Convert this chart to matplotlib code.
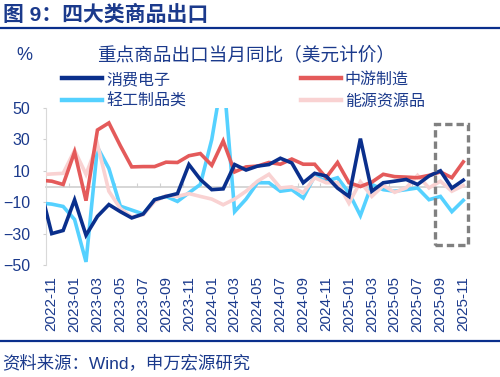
import numpy as np
import pandas as pd
import matplotlib
matplotlib.use("Agg")
import matplotlib.pyplot as plt
from matplotlib.patches import Rectangle
from matplotlib.lines import Line2D

# months 2022-10 .. 2025-11 (first point sits just left of the axis)
months = [p.strftime("%Y-%m") for p in pd.period_range("2022-10", "2025-11", freq="M")]

elec = [-1, -30, -28, -8.5, -31, -19, -11.5, -16, -20, -17.5, -8.4, -6.3, -4.5, 14, 4.5, -2, -1.5,
        14, 10.5, 13, 14, 18, 15, 2.4, 8.4, 6.7, -1, -6.3, 30.5, -3, 2.4, 3.4, 4.5, 1.3, 6.7, 10, -1, 4]
mid = [4, 3.4, 1.3, 22, -9, 36, 40.5, 26, 12.5, 12.7, 12.7, 15.5, 15.3, 19.6, 21, 13.5, 29,
       9.3, 12.5, 13, 15.3, 14.2, 17.5, 14.2, 14.2, 5.6, 15.3, 2.4, 0, 2.8, 7.8, 6.3, 6, 5.6, 7.1, 9.3, 5.6, 15.7]
light = [-10.5, -11.2, -12.7, -21, -48, 25, 11.5, -12.5, -15, -17.5, -8.4, -6.3, -9.5, -4, 1.3, 30, 73,
         -16, -8, 2.4, 2.4, -3, -2, -7.3, 6.7, 3.4, 5.6, -4, -18.5, 1.3, -2, -3, -2, -0.9, -8.4, -6.3, -16, -8.8]
energy = [7.5, 8, 8.4, 23, 7.8, 27, -3, -14, -19.5, -18, -9.5, -5.8, -6.3, -4.5, -6.3, -8, -11.6,
          -8, -3, 3.4, 7.8, -0.9, -0.2, -4, 5.6, 2.4, 2.4, -10.6, 3, -6.3, 0.6, -3.7, -0.9, 7.1, -0.9, 3.4, -3, 0.6]

names = ["消费电子", "中游制造", "轻工制品类", "能源资源品"]
colors = ["#0A2F8C", "#E45A5A", "#55D1FF", "#F9D2D2"]

navy = "#1B3A8C"
cjk = ["Liberation Sans", "Noto Sans CJK SC"]
plt.rcParams["font.family"] = cjk

x = np.arange(len(months)) - 1

fig = plt.figure(figsize=(5, 3.77), dpi=100)
ax = fig.add_axes([0.092, 0.297, 0.846, 0.4165])

series = [elec, mid, light, energy]
order = [2, 3, 1, 0]  # draw order
for k in order:
    ax.plot(x, series[k], color=colors[k], lw=2.6, solid_joinstyle="miter", zorder=3 + order.index(k))

ax.set_xlim(-0.5, 36.5)
ax.set_ylim(-50, 50)
ax.set_yticks([50, 30, 10, -10, -30, -50])
ax.tick_params(axis="y", colors="#D0D0D0", labelcolor=navy, labelsize=11.5, length=2.5, pad=9)
for lab in ax.get_yticklabels():
    lab.set_family("Liberation Sans")

lab_pos = list(range(0, 37, 2))
ax.set_xticks(lab_pos)
ax.set_xticklabels([months[i + 1] for i in lab_pos], rotation=90, fontsize=11, color=navy,
                   family="Liberation Sans")
ax.tick_params(axis="x", length=0, pad=8)

for s in ["top", "right", "bottom"]:
    ax.spines[s].set_visible(False)
ax.spines["left"].set_color("#D9D9D9")

# zero axis with small tick marks
sec = ax.secondary_xaxis(0.5)
sec.set_xticks(np.arange(-0.5, 37, 2))
sec.xaxis.set_ticklabels([])
sec.tick_params(length=3, color="#D0D0D0")
for sp in sec.spines.values():
    sp.set_color("#D0D0D0")
    sp.set_linewidth(1.2)
sec.set_zorder(1)

# highlight box on latest months
ax.add_patch(Rectangle((33.5, -37), 2.9, 77, fill=False, ec="#808080", lw=2.4,
                       ls=(0, (2.2, 1.2)), zorder=10, clip_on=False))

handles = [Line2D([], [], color=colors[k], lw=3.2) for k in [0, 2, 1, 3]]
labels = [names[k] for k in [0, 2, 1, 3]]
fig.legend(handles, labels, loc="upper left", bbox_to_anchor=(0.108, 0.83), ncol=2,
           frameon=False, fontsize=11.5, handlelength=2.5, handletextpad=0.25,
           columnspacing=7.2, labelspacing=0.4, borderpad=0, labelcolor=navy)

fig.text(0.006, 0.962, "图 9：四大类商品出口", fontsize=15, fontweight="bold", color=navy,
         va="center", ha="left")
fig.add_artist(Line2D([0, 1], [0.926, 0.926], color="#0A2F8C", lw=1.6))
fig.text(0.048, 0.854, "%", fontsize=13, color=navy, va="center", ha="center")
fig.text(0.492, 0.854, "重点商品出口当月同比（美元计价）", fontsize=13.4, color=navy,
         va="center", ha="center")
fig.add_artist(Line2D([0, 1], [0.096, 0.096], color="#0A2F8C", lw=1.6))
fig.text(0.004, 0.037, "资料来源：Wind，申万宏源研究", fontsize=12.5, color=navy,
         va="center", ha="left")

fig.savefig("out.png", dpi=100)
